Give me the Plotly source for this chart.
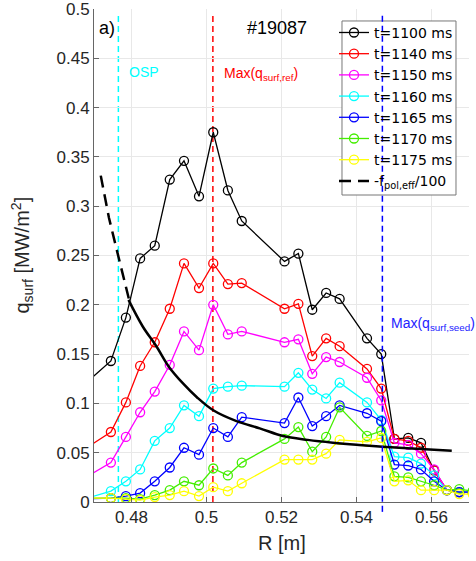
import plotly.graph_objects as go

# Radial positions of the probe points [m] (first/last lie just outside the view)
R = [0.4665, 0.4745, 0.4785, 0.4823, 0.4862, 0.4902, 0.4940, 0.4980, 0.5018,
     0.5057, 0.5094, 0.5208, 0.5245, 0.5282, 0.5319, 0.5355, 0.5428, 0.5466,
     0.5501, 0.5538, 0.5572, 0.5607, 0.5641, 0.5674, 0.5710]

# Surface heat flux profiles [MW/m^2]
q_1100 = [0.116, 0.143, 0.187, 0.247, 0.260, 0.327, 0.346, 0.310, 0.375, 0.316,
          0.285, 0.244, 0.252, 0.195, 0.212, 0.206, 0.166, 0.150, 0.064, 0.065,
          0.060, 0.032, 0.012, 0.010, 0.010]
q_1140 = [0.051, 0.071, 0.101, 0.138, 0.162, 0.196, 0.242, 0.217, 0.242, 0.221,
          0.222, 0.196, 0.201, 0.148, 0.166, 0.158, 0.135, 0.115, 0.064, 0.062,
          0.055, 0.032, 0.012, 0.010, 0.010]
q_1150 = [0.022, 0.040, 0.066, 0.091, 0.112, 0.139, 0.173, 0.154, 0.200, 0.170,
          0.173, 0.162, 0.165, 0.130, 0.147, 0.142, 0.126, 0.103, 0.060, 0.058,
          0.049, 0.033, 0.012, 0.010, 0.010]
q_1160 = [0.002, 0.011, 0.021, 0.033, 0.062, 0.075, 0.098, 0.087, 0.115, 0.117,
          0.118, 0.117, 0.131, 0.114, 0.105, 0.121, 0.101, 0.083, 0.046, 0.045,
          0.039, 0.027, 0.012, 0.010, 0.010]
q_1165 = [0.003, 0.004, 0.006, 0.009, 0.021, 0.035, 0.055, 0.048, 0.075, 0.066,
          0.086, 0.080, 0.106, 0.077, 0.087, 0.098, 0.090, 0.082, 0.038, 0.037,
          0.033, 0.021, 0.012, 0.010, 0.010]
q_1170 = [0.004, 0.004, 0.004, 0.003, 0.007, 0.012, 0.021, 0.017, 0.034, 0.027,
          0.040, 0.064, 0.076, 0.051, 0.066, 0.096, 0.067, 0.072, 0.026, 0.025,
          0.021, 0.017, 0.012, 0.013, 0.011]
q_1175 = [0.004, 0.004, 0.003, 0.002, 0.005, 0.007, 0.011, 0.006, 0.015, 0.011,
          0.019, 0.043, 0.043, 0.043, 0.049, 0.063, 0.061, 0.065, 0.021, 0.022,
          0.012, 0.012, 0.012, 0.008, 0.008]

series_names = ["t=1100 ms", "t=1140 ms", "t=1150 ms", "t=1160 ms",
                "t=1165 ms", "t=1170 ms", "t=1175 ms"]
series_values = [q_1100, q_1140, q_1150, q_1160, q_1165, q_1170, q_1175]
series_colors = ["#000000", "#ff0000", "#ff00ff", "#00ffff",
                 "#0000ff", "#44ee00", "#ffff00"]

# Effective poloidal flux-expansion curve, -f_pol,eff/100
R_fpol_dash = [0.4718, 0.4740, 0.4765, 0.4795]
fpol_dash = [0.331, 0.288, 0.249, 0.203]
R_fpol = [0.4792, 0.4830, 0.4867, 0.4900, 0.4938, 0.4975, 0.5018, 0.5080,
          0.5142, 0.5204, 0.5270, 0.5337, 0.5400, 0.5470, 0.5560, 0.5654]
fpol = [0.205, 0.178, 0.1575, 0.137, 0.120, 0.106, 0.093, 0.082,
        0.0747, 0.0669, 0.063, 0.0601, 0.058, 0.0561, 0.054, 0.052]

# Marker positions [m]
R_osp = 0.4765
R_max_ref = 0.5017
R_max_seed = 0.5469

# Axis ticks
x_ticks = [0.48, 0.50, 0.52, 0.54, 0.56]
x_ticklabels = ["0.48", "0.5", "0.52", "0.54", "0.56"]
y_ticks = [0, 0.05, 0.1, 0.15, 0.2, 0.25, 0.3, 0.35, 0.4, 0.45, 0.5]
y_ticklabels = ["0", "0.05", "0.1", "0.15", "0.2", "0.25", "0.3", "0.35",
                "0.4", "0.45", "0.5"]

fig = go.Figure()

for name, vals, col in zip(series_names, series_values, series_colors):
    fig.add_trace(go.Scatter(
        x=R, y=vals, name=name, mode="lines+markers",
        line=dict(color=col, width=1.3),
        marker=dict(symbol="circle-open", size=9, color=col,
                    line=dict(width=1.3, color=col)),
    ))

fig.add_trace(go.Scatter(
    x=R_fpol_dash, y=fpol_dash, name="-f<sub>pol,eff</sub>/100", mode="lines",
    line=dict(color="black", width=2.5, dash="12px,7px"),
))
fig.add_trace(go.Scatter(
    x=R_fpol, y=fpol, mode="lines", showlegend=False,
    line=dict(color="black", width=2.5, shape="spline"),
))

axis_col = "#666666"
font_main = "Liberation Sans, Arial, sans-serif"

shapes = [
    dict(type="line", xref="x", yref="paper", x0=R_osp, x1=R_osp, y0=0, y1=0.992,
         line=dict(color="#00ffff", width=1.5, dash="6px,4px"), layer="between"),
    dict(type="line", xref="x", yref="paper", x0=R_max_ref, x1=R_max_ref, y0=0, y1=0.988,
         line=dict(color="#ff0000", width=1.5, dash="6px,4px"), layer="between"),
    # legend box
    dict(type="rect", xref="paper", yref="paper", x0=0.6613, x1=0.9653,
         y0=0.6227, y1=0.9757, fillcolor="white",
         line=dict(color="#777777", width=1), layer="above"),
    dict(type="line", xref="x", yref="paper", x0=R_max_seed, x1=R_max_seed,
         y0=-0.02, y1=0.992,
         line=dict(color="#0000ff", width=1.5, dash="6px,4px"), layer="above"),
]

annotations = [
    dict(text="a)", x=0.008, y=0.962, xref="paper", yref="paper",
         xanchor="left", yanchor="middle", showarrow=False,
         font=dict(size=18, color="black", family=font_main)),
    dict(text="#19087", x=0.488, y=0.962, xref="paper", yref="paper",
         xanchor="center", yanchor="middle", showarrow=False,
         font=dict(size=18, color="black", family=font_main)),
    dict(text="OSP", x=0.088, y=0.872, xref="paper", yref="paper",
         xanchor="left", yanchor="middle", showarrow=False,
         font=dict(size=14, color="#00ffff", family=font_main)),
    dict(text="Max(q<sub>surf,ref</sub>)", x=0.341, y=0.868, xref="paper", yref="paper",
         xanchor="left", yanchor="middle", showarrow=False,
         font=dict(size=14, color="#ff0000", family=font_main)),
    dict(text="Max(q<sub>surf,seed</sub>)", x=0.787, y=0.362, xref="paper", yref="paper",
         xanchor="left", yanchor="middle", showarrow=False,
         font=dict(size=14, color="#2222ff", family=font_main)),
    dict(text="q<sub>surf</sub> [MW/m<sup>2</sup>]", x=-0.192, y=0.5,
         xref="paper", yref="paper", textangle=-90,
         xanchor="center", yanchor="middle", showarrow=False,
         font=dict(size=20, color="#262626", family=font_main)),
    dict(text="R [m]", x=0.5, y=-0.083, xref="paper", yref="paper",
         xanchor="center", yanchor="middle", showarrow=False,
         font=dict(size=20, color="#262626", family=font_main)),
]

fig.update_layout(
    width=476, height=561,
    margin=dict(l=94, r=7, t=9, b=59, autoexpand=False),
    paper_bgcolor="white", plot_bgcolor="white",
    font=dict(family=font_main, color="#262626"),
    showlegend=True,
    legend=dict(x=0.6400, y=0.9840, xanchor="left", yanchor="top",
                bgcolor="rgba(0,0,0,0)", borderwidth=0,
                font=dict(family="DejaVu Sans", size=14, color="black"),
                itemwidth=30, tracegroupgap=0),
    shapes=shapes,
    annotations=annotations,
    xaxis=dict(range=[0.47, 0.57], tickmode="array", tickvals=x_ticks,
               ticktext=x_ticklabels, ticklabeloverflow="allow", automargin=False,
               showgrid=True, gridcolor="#e8e8e8", gridwidth=1, zeroline=False,
               showline=True, linecolor=axis_col, linewidth=1,
               ticks="inside", ticklen=5, tickcolor=axis_col,
               tickfont=dict(size=17, color="#262626", family=font_main)),
    yaxis=dict(range=[0, 0.5], tickmode="array", tickvals=y_ticks,
               ticktext=y_ticklabels, ticklabeloverflow="allow", automargin=False,
               showgrid=True, gridcolor="#e8e8e8", gridwidth=1, zeroline=False,
               showline=True, linecolor=axis_col, linewidth=1,
               ticks="inside", ticklen=5, tickcolor=axis_col,
               tickfont=dict(size=17, color="#262626", family=font_main)),
)

fig.write_html("out.html")
